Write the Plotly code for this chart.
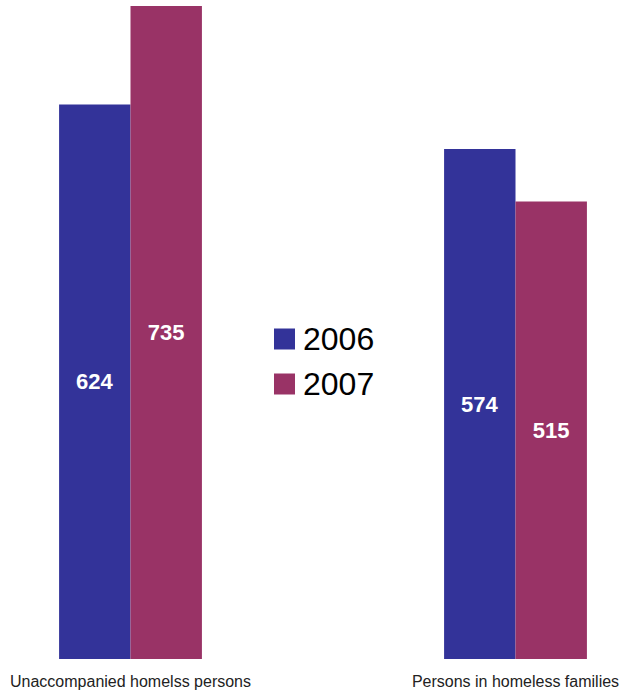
import plotly.graph_objects as go

# Homeless counts by group and year
categories = ["Unaccompanied homelss persons", "Persons in homeless families"]
years = ["2006", "2007"]
values_2006 = [624, 574]
values_2007 = [735, 515]

colors = {"2006": "#333399", "2007": "#993366"}
W, H = 621, 693
top_m, bot_m = 6, 34
plot_h = H - top_m - bot_m

fig = go.Figure()
for year, vals in zip(years, [values_2006, values_2007]):
    fig.add_trace(go.Bar(
        x=categories, y=vals, name=year,
        marker=dict(color=colors[year], line=dict(width=0)),
        text=[str(v) for v in vals],
        textposition="inside", insidetextanchor="middle",
        textangle=0,
        textfont=dict(color="white", size=22, family="Liberation Sans", weight="bold"),
        showlegend=False,
    ))

# legend drawn as paper-anchored swatches with labels
def px_x(p):
    return p / W

def px_y(p):
    return (H - bot_m - p) / plot_h

for i, year in enumerate(years):
    cy = 339 + i * 45
    fig.add_shape(type="rect", xref="paper", yref="paper",
                  x0=px_x(274), x1=px_x(295), y0=px_y(cy + 10.5), y1=px_y(cy - 10.5),
                  fillcolor=colors[year], line=dict(width=0))
    fig.add_annotation(xref="paper", yref="paper", x=px_x(301), y=px_y(cy),
                       xanchor="left", yanchor="middle", text=year, showarrow=False,
                       font=dict(size=32, color="black", family="Liberation Sans"))

# x position of each category: 0 at px 130.5, 1 at px 515.5
unit = 385.0
x0 = -130.5 / unit
x1 = (W - 130.5) / unit

fig.update_layout(
    width=W, height=H,
    margin=dict(l=0, r=0, t=top_m, b=bot_m),
    barmode="group", bargap=0.629, bargroupgap=0,
    plot_bgcolor="white", paper_bgcolor="white",
    font=dict(family="Liberation Sans", color="#222222"),
    uniformtext=dict(mode=False),
    xaxis=dict(range=[x0, x1], showgrid=False, showline=False, zeroline=False,
               ticks="", ticklabelstandoff=11,
               tickfont=dict(size=16, color="#222222")),
    yaxis=dict(range=[0, 735], showgrid=False, showline=False, zeroline=False,
               showticklabels=False, ticks=""),
)

fig.write_html("out.html")
